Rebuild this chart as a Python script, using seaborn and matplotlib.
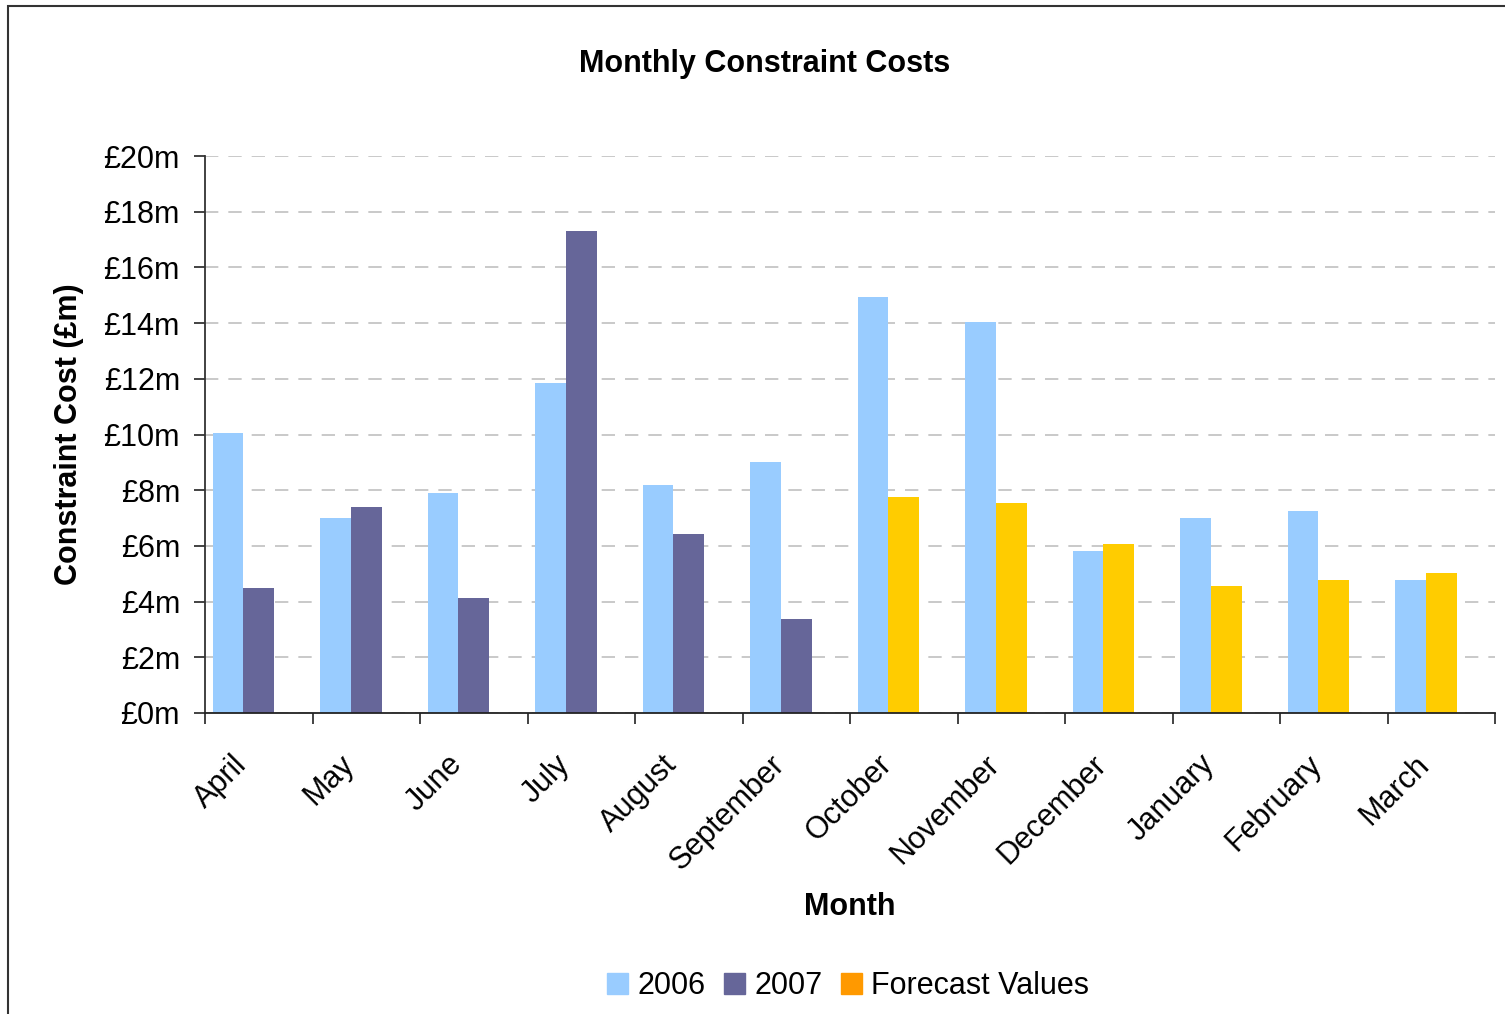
import pandas as pd
import numpy as np
import matplotlib
matplotlib.use("Agg")
import matplotlib.pyplot as plt
from matplotlib.patches import Patch, Rectangle
from matplotlib.ticker import FuncFormatter, FixedLocator
from matplotlib.transforms import ScaledTranslation
import seaborn as sns

months = ['April', 'May', 'June', 'July', 'August', 'September',
          'October', 'November', 'December', 'January', 'February', 'March']
cost_2006 = [10.05, 7.0, 7.9, 11.85, 8.19, 9.01, 14.94, 14.04, 5.82, 7.0, 7.25, 4.78]
cost_2007 = [4.49, 7.40, 4.13, 17.31, 6.43, 3.38]
forecast = [7.76, 7.54, 6.07, 4.56, 4.78, 5.03]

c2006 = '#99CCFF'
c2007 = '#666699'
cfore = '#FFCC00'
cfore_legend = '#FF9900'

# second slot holds 2007 actuals then forecast values
second = cost_2007 + forecast
df = pd.concat([
    pd.DataFrame({'Month': months, 'Cost': cost_2006, 'Slot': 'a'}),
    pd.DataFrame({'Month': months, 'Cost': second, 'Slot': 'b'}),
])

sns.set_theme(style='white')
plt.rcParams['font.family'] = ['Liberation Sans', 'DejaVu Sans']
plt.rcParams['text.color'] = 'black'
plt.rcParams['axes.labelcolor'] = 'black'
plt.rcParams['xtick.color'] = 'black'
plt.rcParams['ytick.color'] = 'black'

fig = plt.figure(figsize=(15.05, 10.14), dpi=100)
ax = fig.add_axes([205 / 1505, 1 - 713 / 1014, 1290 / 1505, 557 / 1014])

sns.barplot(data=df, x='Month', y='Cost', hue='Slot', hue_order=['a', 'b', 'c'],
            order=months, palette={'a': c2006, 'b': c2007, 'c': c2007},
            width=0.855, dodge=True, saturation=1, linewidth=0, legend=False, ax=ax)

# recolour forecast bars
for i, bar in enumerate(ax.containers[1]):
    if i >= len(cost_2007):
        bar.set_facecolor(cfore)

ax.set_xlim(-0.5, 11.5)
ax.set_ylim(0, 20)
ax.set_yticks(np.arange(0, 21, 2))
ax.yaxis.set_major_formatter(FuncFormatter(lambda v, p: f'£{int(v)}m'))
ax.yaxis.grid(True, color='#C0C0C0', linestyle=(0, (8, 6)), linewidth=1.2)
ax.set_axisbelow(True)

ax.xaxis.set_minor_locator(FixedLocator(np.arange(-0.5, 12, 1)))
ax.tick_params(axis='x', which='major', length=0, pad=6)
ax.tick_params(axis='x', which='minor', length=8, width=1.2, color='#222222', bottom=True)
ax.tick_params(axis='y', which='major', length=8, width=1.2, color='#222222', left=True,
               labelsize=22, pad=10)
shift = ScaledTranslation(-0.27, -0.28, fig.dpi_scale_trans)
for lab in ax.get_xticklabels():
    lab.set_rotation(45)
    lab.set_ha('right')
    lab.set_rotation_mode('anchor')
    lab.set_fontsize(22)
    lab.set_transform(lab.get_transform() + shift)

for s in ['top', 'right']:
    ax.spines[s].set_visible(False)
ax.spines['left'].set_color('#333333')
ax.spines['bottom'].set_color('#222222')
ax.spines['left'].set_linewidth(1.3)
ax.spines['bottom'].set_linewidth(1.3)

ax.set_xlabel('Month', fontsize=22, fontweight='bold', labelpad=12)
ax.set_ylabel('Constraint Cost (£m)', fontsize=22, fontweight='bold', labelpad=14)
fig.text(765 / 1505, 1 - 64 / 1014, 'Monthly Constraint Costs', ha='center', va='center',
         fontsize=22, fontweight='bold')

handles = [Patch(color=c2006, label='2006'), Patch(color=c2007, label='2007'),
           Patch(color=cfore_legend, label='Forecast Values')]
fig.legend(handles=handles, loc='center', bbox_to_anchor=(848 / 1505, 1 - 986 / 1014),
           ncol=3, frameon=False, fontsize=22, handlelength=0.7, handleheight=0.7,
           handletextpad=0.3, columnspacing=0.6)

fig.patches.append(Rectangle((8 / 1505, -0.1), 1.2, 1 - 6 / 1014 + 0.1,
                             transform=fig.transFigure, fill=False,
                             edgecolor='#333333', linewidth=1.5))

fig.savefig('out.png', dpi=100)
